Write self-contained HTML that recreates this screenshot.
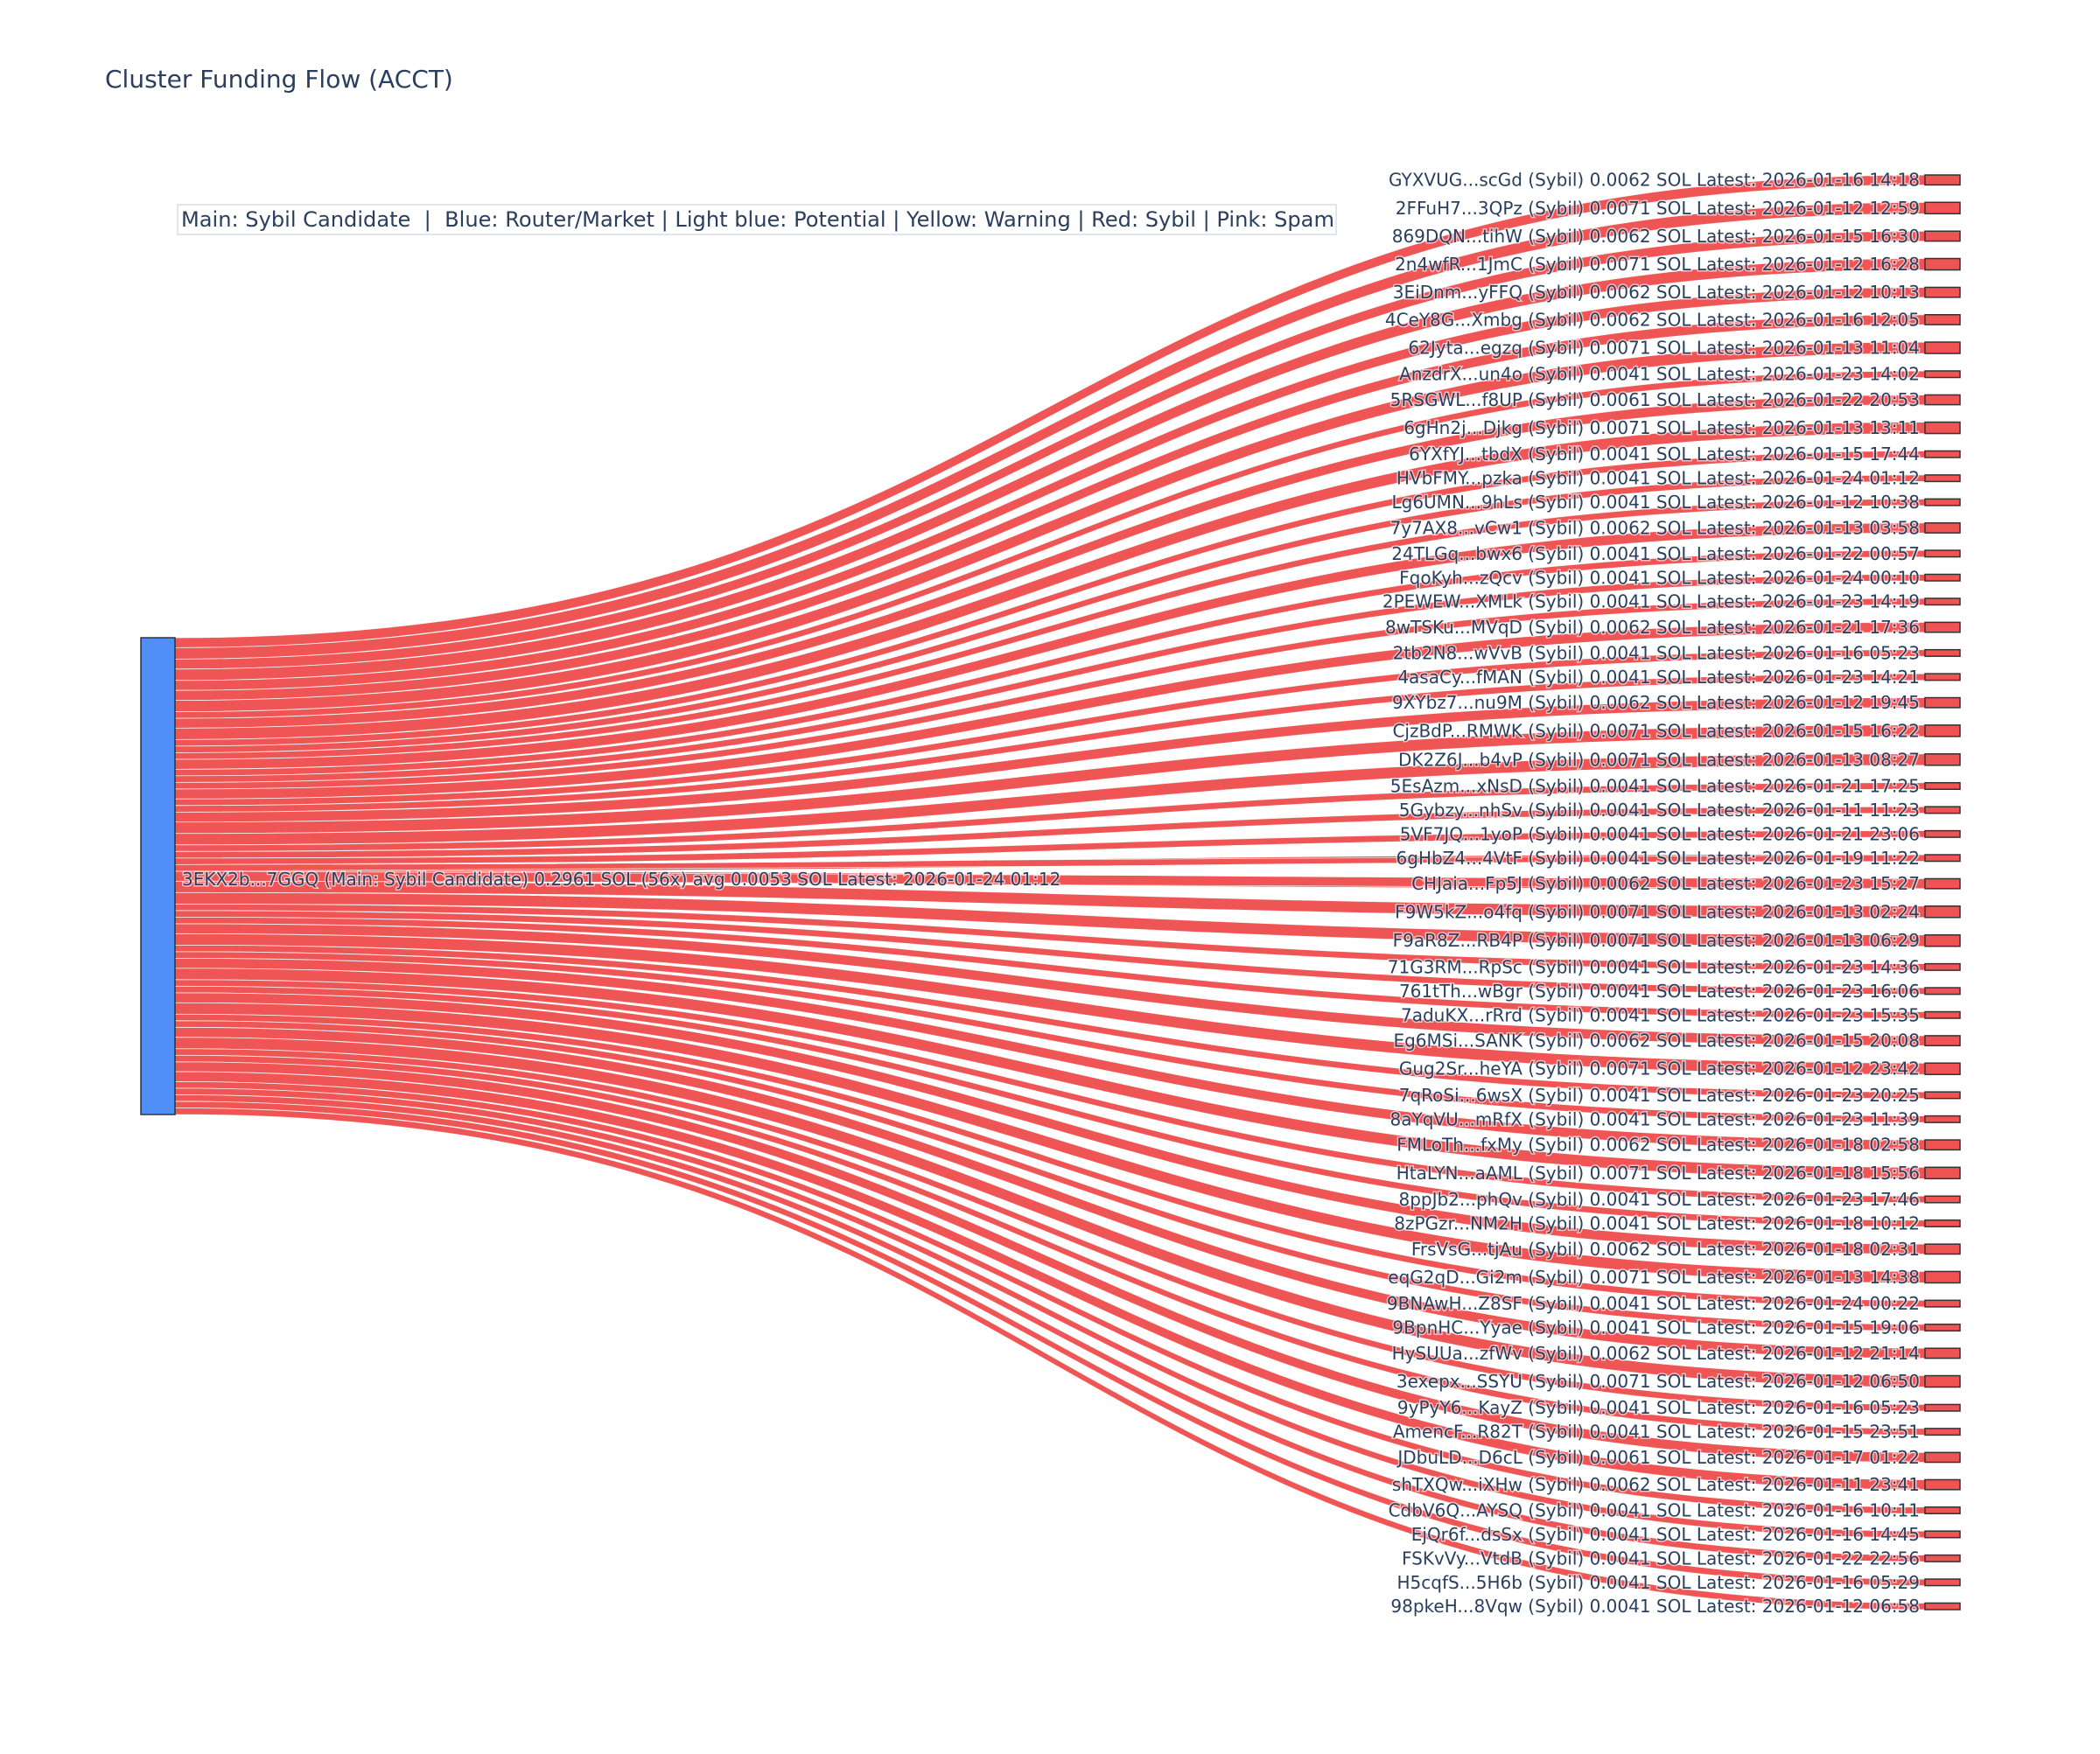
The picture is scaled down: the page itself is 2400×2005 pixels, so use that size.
<!DOCTYPE html>
<html><head><meta charset="utf-8"><style>
html,body{margin:0;padding:0;background:#fff;}
svg text{font-family:"DejaVu Sans","Liberation Sans",sans-serif;fill:#2a3f5f;}
</style></head><body>
<svg id="s" width="2400" height="2000" xmlns="http://www.w3.org/2000/svg">
<rect width="2400" height="2000" fill="#fff"/>
<text x="120" y="100" font-size="28">Cluster Funding Flow (ACCT)</text>
<rect x="203" y="234" width="1324" height="34" fill="#fff" stroke="#d8dde6" stroke-width="1.5"/>
<text x="207" y="259" font-size="24.1" style="white-space:pre">Main: Sybil Candidate  |  Blue: Router/Market | Light blue: Potential | Yellow: Warning | Red: Sybil | Pink: Spam</text>
<g id="links"></g>
<rect x="161" y="729" width="39" height="545" fill="#4f8ff6" stroke="#333" stroke-width="1.5"/>
<g id="nodes"></g>
<text x="208" y="1012" font-size="20" style="paint-order:stroke;stroke:#fff;stroke-width:3px;stroke-opacity:0.6">3EKX2b...7GGQ (Main: Sybil Candidate) 0.2961 SOL (56x) avg 0.0053 SOL Latest: 2026-01-24 01:12</text>
</svg>
<script>
(function(){
var d=[["GYXVUG...scGd",62,"16 14:18"],["2FFuH7...3QPz",71,"12 12:59"],["869DQN...tihW",62,"15 16:30"],["2n4wfR...1JmC",71,"12 16:28"],["3EiDnm...yFFQ",62,"12 10:13"],["4CeY8G...Xmbg",62,"16 12:05"],["62Jyta...egzq",71,"13 11:04"],["AnzdrX...un4o",41,"23 14:02"],["5RSGWL...f8UP",61,"22 20:53"],["6gHn2j...Djkg",71,"13 13:11"],["6YXfYJ...tbdX",41,"15 17:44"],["HVbFMY...pzka",41,"24 01:12"],["Lg6UMN...9hLs",41,"12 10:38"],["7y7AX8...vCw1",62,"13 03:58"],["24TLGq...bwx6",41,"22 00:57"],["FqoKyh...zQcv",41,"24 00:10"],["2PEWEW...XMLk",41,"23 14:19"],["8wTSKu...MVqD",62,"21 17:36"],["2tb2N8...wVvB",41,"16 05:23"],["4asaCy...fMAN",41,"23 14:21"],["9XYbz7...nu9M",62,"12 19:45"],["CjzBdP...RMWK",71,"15 16:22"],["DK2Z6J...b4vP",71,"13 08:27"],["5EsAzm...xNsD",41,"21 17:25"],["5Gybzy...nhSv",41,"11 11:23"],["5VF7JQ...1yoP",41,"21 23:06"],["6gHbZ4...4VtF",41,"19 11:22"],["CHJaia...Fp5J",62,"23 15:27"],["F9W5kZ...o4fq",71,"13 02:24"],["F9aR8Z...RB4P",71,"13 06:29"],["71G3RM...RpSc",41,"23 14:36"],["761tTh...wBgr",41,"23 16:06"],["7aduKX...rRrd",41,"23 15:35"],["Eg6MSi...SANK",62,"15 20:08"],["Gug2Sr...heYA",71,"12 23:42"],["7qRoSi...6wsX",41,"23 20:25"],["8aYqVU...mRfX",41,"23 11:39"],["FMLoTh...fxMy",62,"18 02:58"],["HtaLYN...aAML",71,"18 15:56"],["8ppJb2...phQv",41,"23 17:46"],["8zPGzr...NM2H",41,"18 10:12"],["FrsVsG...tjAu",62,"18 02:31"],["eqG2qD...Gi2m",71,"13 14:38"],["9BNAwH...Z8SF",41,"24 00:22"],["9BpnHC...Yyae",41,"15 19:06"],["HySUUa...zfWv",62,"12 21:14"],["3exepx...SSYU",71,"12 06:50"],["9yPyY6...KayZ",41,"16 05:23"],["AmencF...R82T",41,"15 23:51"],["JDbuLD...D6cL",61,"17 01:22"],["shTXQw...iXHw",62,"11 23:41"],["CdbV6Q...AYSQ",41,"16 10:11"],["EjQr6f...dsSx",41,"16 14:45"],["FSKvVy...VtdB",41,"22 22:56"],["H5cqfS...5H6b",41,"16 05:29"],["98pkeH...8Vqw",41,"12 06:58"]];
var tot=0;d.forEach(function(e){tot+=e[1];});
var sc=545/tot, y0=200, span=1640, gap=(span-545)/55;
var L='',N='',ty=y0,sy=729,x0=200,x1=2200,xm=(x0+x1)/2;
d.forEach(function(e){
 var h=e[1]*sc;
 L+='<path d="M'+x0+','+sy+' C'+xm+','+sy+' '+xm+','+ty+' '+x1+','+ty+' L'+x1+','+(ty+h)+' C'+xm+','+(ty+h)+' '+xm+','+(sy+h)+' '+x0+','+(sy+h)+' Z" fill="#ef5555" stroke="#fff" stroke-width="0.8" stroke-opacity="0.8"/>';
 N+='<rect x="2200" y="'+ty+'" width="40" height="'+h+'" fill="#ef5353" stroke="#333" stroke-width="1.5"/>';
 N+='<text x="2194" y="'+(ty+h/2+7)+'" font-size="20" text-anchor="end" style="paint-order:stroke;stroke:#fff;stroke-width:3px;stroke-opacity:0.6">'+e[0]+' (Sybil) 0.00'+e[1]+' SOL Latest: 2026-01-'+e[2]+'</text>';
 sy+=h; ty+=h+gap;
});
document.getElementById('links').innerHTML=L;
document.getElementById('nodes').innerHTML=N;
})();
</script>
</body></html>
